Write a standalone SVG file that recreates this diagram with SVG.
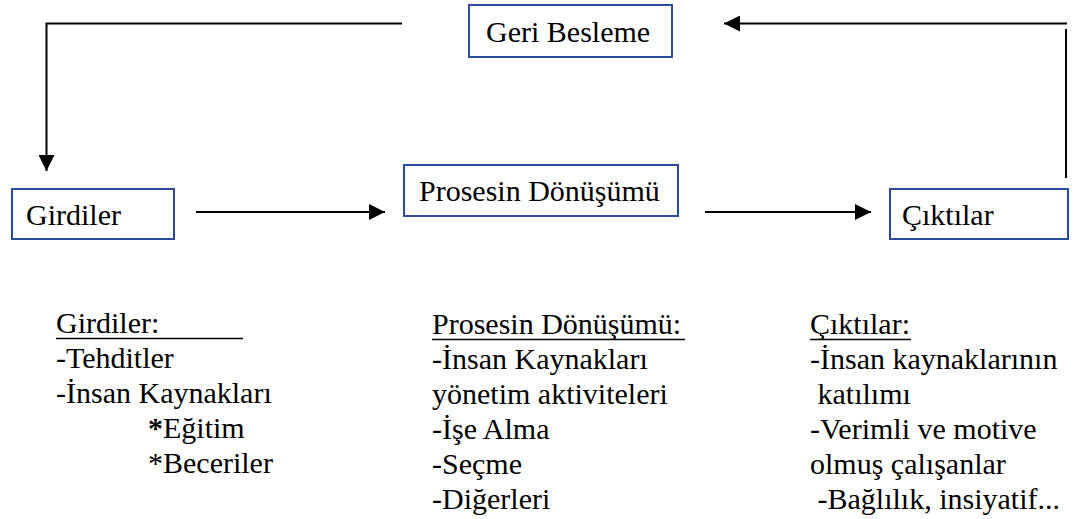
<svg xmlns="http://www.w3.org/2000/svg" width="1080" height="519" viewBox="0 0 1080 519">
<style>
.t{font-family:'Liberation Serif','DejaVu Serif',serif;font-size:30px;fill:#000}
.box{fill:#fff;stroke:#2B4C9B;stroke-width:2}
.ln{stroke:#000;stroke-width:2;fill:none}
.ul{stroke:#000;stroke-width:1.5}
</style>
<defs>
<marker id="ah" markerWidth="16" markerHeight="16" viewBox="0 0 16 16" refX="16" refY="8" orient="auto" markerUnits="userSpaceOnUse">
<path d="M0,0 L16,8 L0,16 Z" fill="#000"/>
</marker>
</defs>
<rect width="1080" height="519" fill="#fff"/>
<g id="connectors">
<polyline class="ln" points="402,23.5 46.5,23.5 46.5,171" marker-end="url(#ah)"/>
<line class="ln" x1="196" y1="212" x2="385" y2="212" marker-end="url(#ah)"/>
<line class="ln" x1="705" y1="212" x2="871" y2="212" marker-end="url(#ah)"/>
<line class="ln" x1="1066" y1="29" x2="1066" y2="178"/>
<line class="ln" x1="1067" y1="23.5" x2="724" y2="23.5" marker-end="url(#ah)"/>
</g>
<g id="geri-besleme">
<rect class="box" x="469" y="5" width="203" height="52"/>
<text class="t" x="486" y="42">Geri Besleme</text>
</g>
<g id="prosesin">
<rect class="box" x="404" y="165" width="274" height="51"/>
<text class="t" x="419" y="201">Prosesin Dönüşümü</text>
</g>
<g id="girdiler">
<rect class="box" x="12" y="189" width="162" height="50"/>
<text class="t" x="26" y="225">Girdiler</text>
</g>
<g id="ciktilar">
<rect class="box" x="890" y="189" width="178" height="50"/>
<text class="t" x="902" y="225">Çıktılar</text>
</g>
<g id="girdiler-list">
<text class="t" x="56" y="333">Girdiler:</text>
<line class="ul" x1="56" y1="338.5" x2="243" y2="338.5"/>
<text class="t" x="56" y="368">-Tehditler</text>
<text class="t" x="56" y="403">-İnsan Kaynakları</text>
<text class="t" x="148" y="438"><tspan font-weight="bold">*</tspan>Eğitim</text>
<text class="t" x="148" y="473">*Beceriler</text>
</g>
<g id="prosesin-list">
<text class="t" x="432" y="334">Prosesin Dönüşümü:</text>
<line class="ul" x1="432" y1="339.5" x2="685" y2="339.5"/>
<text class="t" x="432" y="369">-İnsan Kaynakları</text>
<text class="t" x="432" y="404">yönetim aktiviteleri</text>
<text class="t" x="432" y="439">-İşe Alma</text>
<text class="t" x="432" y="474">-Seçme</text>
<text class="t" x="432" y="509">-Diğerleri</text>
</g>
<g id="ciktilar-list">
<text class="t" x="810" y="334">Çıktılar:</text>
<line class="ul" x1="810" y1="339.5" x2="911" y2="339.5"/>
<text class="t" x="810" y="369">-İnsan kaynaklarının</text>
<text class="t" x="817.5" y="404">katılımı</text>
<text class="t" x="810" y="439">-Verimli ve motive</text>
<text class="t" x="810" y="474">olmuş çalışanlar</text>
<text class="t" x="817.5" y="509">-Bağlılık, insiyatif...</text>
</g>
</svg>
